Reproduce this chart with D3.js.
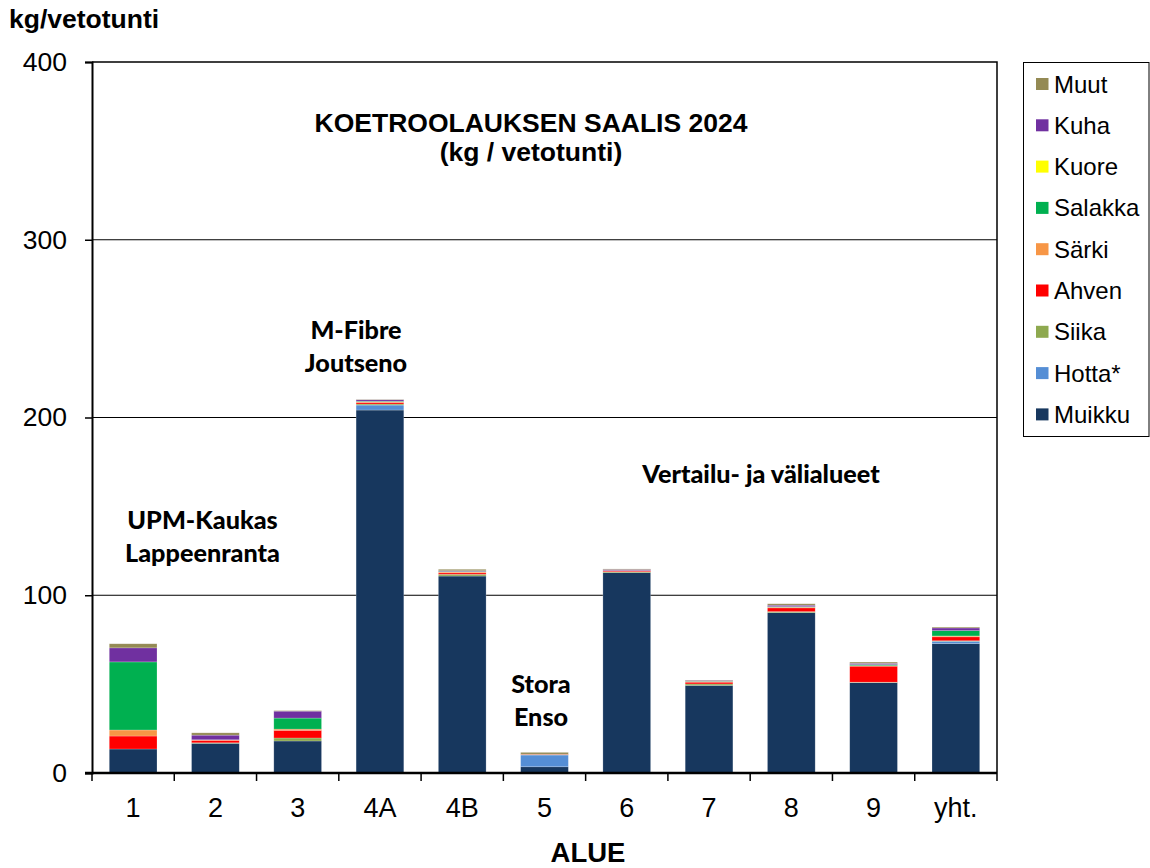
<!DOCTYPE html>
<html>
<head>
<meta charset="utf-8">
<script src="https://cdn.jsdelivr.net/npm/d3@7"></script>
<style>
  body { margin: 0; background: #fff; }
  svg { display: block; }
  text { font-family: "Liberation Sans", Arial, sans-serif; }
</style>
</head>
<body>
<svg id="chart" width="1150" height="868"></svg>
<script>
// Sampling areas along the x axis
const categories = ["1", "2", "3", "4A", "4B", "5", "6", "7", "8", "9", "yht."];

// Catch per trawling hour (kg) by species, stacked from the bottom up
const muikku  = [13.5, 16.7, 18.0, 204.2, 110.8, 3.5, 112.7, 49.3, 90.2, 50.8, 72.8];
const hotta   = [0.0, 0.0, 0.0, 2.8, 0.0, 6.6, 0.0, 0.0, 0.0, 0.0, 1.3];
const siika   = [0.0, 0.3, 1.7, 0.6, 1.0, 0.3, 0.5, 0.8, 0.6, 0.3, 0.3];
const ahven   = [7.3, 1.4, 4.3, 0.8, 0.8, 0.2, 0.5, 1.0, 2.1, 9.0, 2.2];
const sarki   = [3.4, 0.2, 0.7, 0.5, 0.5, 0.0, 0.2, 0.4, 0.4, 0.3, 0.5];
const salakka = [38.3, 0.1, 6.2, 0.3, 0.3, 0.0, 0.0, 0.2, 0.3, 0.6, 3.0];
const kuore   = [0.0, 0.0, 0.0, 0.0, 0.0, 0.0, 0.0, 0.0, 0.0, 0.0, 0.0];
const kuha    = [7.9, 2.6, 3.9, 0.8, 0.4, 0.0, 0.6, 0.4, 0.8, 0.7, 1.5];
const muut    = [2.3, 1.3, 0.3, 0.2, 0.8, 1.0, 0.3, 0.2, 0.8, 0.7, 0.5];

const seriesNames = ["Muikku", "Hotta*", "Siika", "Ahven", "Särki", "Salakka", "Kuore", "Kuha", "Muut"];
const seriesValues = [muikku, hotta, siika, ahven, sarki, salakka, kuore, kuha, muut];
const seriesColors = ["#17375E", "#558ED5", "#8EA94F", "#FF0000", "#F79646", "#00B050", "#FFFF00", "#7030A0", "#948A54"];

const yTicks = [0, 100, 200, 300, 400];

const rows = categories.map((c, i) => {
  const r = { area: c };
  seriesNames.forEach((s, k) => { r[s] = seriesValues[k][i]; });
  return r;
});

const svg = d3.select("#chart");
const plot = { left: 92, right: 997, top: 62, bottom: 773 };

const x = d3.scaleBand().domain(categories).range([plot.left, plot.right]).paddingInner(0.42).paddingOuter(0.21);
const y = d3.scaleLinear().domain([0, 400]).range([plot.bottom, plot.top]);

// Horizontal gridlines
svg.append("g")
  .selectAll("line")
  .data(yTicks.filter(t => t > 0 && t < 400))
  .join("line")
  .attr("x1", plot.left).attr("x2", plot.right)
  .attr("y1", d => y(d)).attr("y2", d => y(d))
  .attr("stroke", "#000").attr("stroke-width", 1);

// Plot frame (top and right edges)
svg.append("path")
  .attr("d", `M${plot.left},${plot.top}H${plot.right}V${plot.bottom}`)
  .attr("fill", "none").attr("stroke", "#000").attr("stroke-width", 1.5);

// Stacked bars
const stack = d3.stack().keys(seriesNames)(rows);
svg.append("g")
  .selectAll("g")
  .data(stack)
  .join("g")
  .attr("fill", (d, i) => seriesColors[i])
  .selectAll("rect")
  .data(d => d.filter(p => p[1] - p[0] > 0))
  .join("rect")
  .attr("x", d => x(d.data.area))
  .attr("width", x.bandwidth())
  .attr("y", d => y(d[1]))
  .attr("height", d => y(d[0]) - y(d[1]))
  .attr("stroke", "rgba(255,255,255,0.35)")
  .attr("stroke-width", 0.6);

// Y axis
const yAxis = svg.append("g")
  .attr("transform", `translate(${plot.left},0)`)
  .call(d3.axisLeft(y).tickValues(yTicks).tickSize(7).tickPadding(18));
yAxis.select(".domain").attr("stroke", "#000").attr("stroke-width", 2);
yAxis.selectAll(".tick line").attr("stroke", "#000").attr("stroke-width", 1.5);
yAxis.selectAll(".tick text").attr("font-size", 26.5).attr("fill", "#000")
  .style("font-family", "'Liberation Sans', Arial, sans-serif");

// X axis with ticks on category boundaries
const xAxis = svg.append("g").attr("transform", `translate(0,${plot.bottom})`);
xAxis.append("line")
  .attr("x1", plot.left - 7).attr("x2", plot.right)
  .attr("stroke", "#000").attr("stroke-width", 2.5);
const boundaries = d3.range(categories.length + 1).map(i => plot.left + i * (plot.right - plot.left) / categories.length);
xAxis.selectAll("line.tk")
  .data(boundaries)
  .join("line")
  .attr("class", "tk")
  .attr("x1", d => d).attr("x2", d => d)
  .attr("y1", 0).attr("y2", 8)
  .attr("stroke", "#000").attr("stroke-width", 1.5);
xAxis.selectAll("text")
  .data(categories)
  .join("text")
  .attr("x", d => x(d) + x.bandwidth() / 2)
  .attr("y", 44)
  .attr("text-anchor", "middle")
  .attr("font-size", 27)
  .text(d => d);

// Axis titles
svg.append("text").attr("x", 588).attr("y", 862).attr("text-anchor", "middle")
  .attr("font-size", 27.5).attr("font-weight", "bold").text("ALUE");
svg.append("text").attr("x", 9).attr("y", 28)
  .attr("font-size", 26.5).attr("font-weight", "bold").text("kg/vetotunti");

// Chart title
svg.append("text").attr("x", 531).attr("y", 132).attr("text-anchor", "middle")
  .attr("font-size", 26.5).attr("font-weight", "bold").text("KOETROOLAUKSEN SAALIS 2024");
svg.append("text").attr("x", 531).attr("y", 161).attr("text-anchor", "middle")
  .attr("font-size", 26.5).attr("font-weight", "bold").text("(kg / vetotunti)");

// Area annotations
const notes = [
  { lines: ["M-Fibre", "Joutseno"], x: 356, y: 339 },
  { lines: ["UPM-Kaukas", "Lappeenranta"], x: 202.5, y: 528.5 },
  { lines: ["Stora", "Enso"], x: 541, y: 693 },
  { lines: ["Vertailu- ja välialueet"], x: 761, y: 482.5 }
];
notes.forEach(n => {
  n.lines.forEach((t, i) => {
    svg.append("text")
      .attr("x", n.x).attr("y", n.y + i * 33)
      .attr("text-anchor", "middle")
      .attr("font-size", 25.2).attr("font-weight", 900)
      .style("font-family", "Lato, 'Open Sans', sans-serif")
      .text(t);
  });
});

// Legend
const legend = svg.append("g");
legend.append("rect").attr("x", 1023.5).attr("y", 62.5).attr("width", 125.5).attr("height", 374)
  .attr("fill", "#fff").attr("stroke", "#000").attr("stroke-width", 1);
const legendOrder = seriesNames.map((s, i) => i).reverse();
legendOrder.forEach((k, j) => {
  const cy = 84 + j * 41.3;
  legend.append("rect").attr("x", 1036).attr("y", cy - 6).attr("width", 12.5).attr("height", 12)
    .attr("fill", seriesColors[k]);
  legend.append("text").attr("x", 1054).attr("y", cy + 8.5)
    .attr("font-size", 24).text(seriesNames[k]);
});
</script>
</body>
</html>
